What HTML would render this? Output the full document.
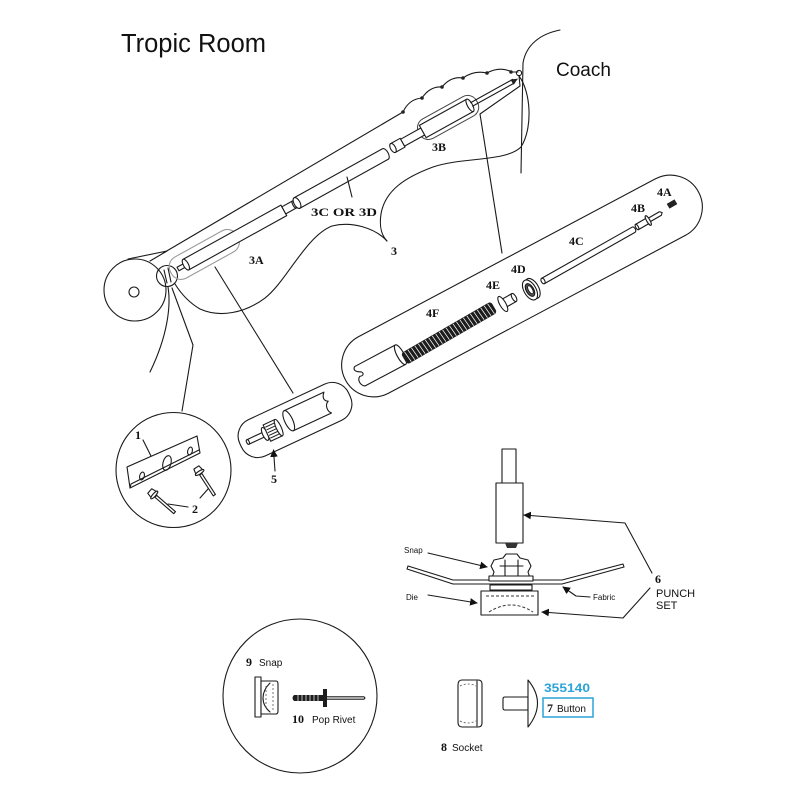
<!DOCTYPE html>
<html><head><meta charset="utf-8"><style>
html,body{margin:0;padding:0;background:#fff;}
svg{display:block;}
.s{fill:none;stroke:#1a1a1a;stroke-width:1.1;stroke-linecap:round;stroke-linejoin:round;}
.w{fill:#fff;stroke:#1a1a1a;stroke-width:1.1;stroke-linejoin:round;}
.lb{font-family:"Liberation Serif",serif;font-weight:bold;font-size:12px;fill:#111;}
.sn{font-family:"Liberation Sans",sans-serif;fill:#111;}
</style></head><body>
<svg width="800" height="800" viewBox="0 0 800 800" xmlns="http://www.w3.org/2000/svg">
<defs>
<marker id="ah" viewBox="0 0 10 10" refX="9" refY="5" markerWidth="7" markerHeight="7" orient="auto-start-reverse"><path d="M0,0 L10,5 L0,10 Z" fill="#111"/></marker>
</defs>

<!-- Title -->
<text x="121" y="52" class="sn" font-size="25.5">Tropic Room</text>
<text x="556" y="76" class="sn" font-size="19">Coach</text>

<!-- Coach outline -->
<path class="s" d="M560,30 C540,34 526,45 523,63 L521,173"/>
<path class="s" d="M519,76 C531,92 533,128 521,147 C506,162 462,157 433,167 C406,177 385,190 381,214 C379,227 382,236 387,241"/>
<path class="s" d="M387,241 C375,228 352,221 332,226 C306,236 286,282 265,298 C245,313 220,318 200,309 C188,302 180,292 175,284"/>

<!-- Roller & pivot -->
<circle class="s" cx="135" cy="290" r="31"/>
<circle class="s" cx="134" cy="292" r="5"/>
<path class="s" d="M128,259 L167,251 M150,261 L167,251"/>
<circle class="s" cx="167" cy="276" r="10.5"/>
<path class="s" d="M164,270 L167,283 M168,268 L171,282"/>

<!-- envelope top line & scallops -->
<path class="s" d="M165,252 L403,112"/>
<path class="s" d="M403,112 Q409,99 422,98 Q430,86 442,87 Q451,76 463,78 Q474,70 487,73 Q500,66 512,72 L518,72"/>
<g fill="#222"><circle cx="403" cy="112" r="1.8"/><circle cx="422" cy="98" r="1.8"/><circle cx="442" cy="87" r="1.8"/><circle cx="463" cy="78" r="1.8"/><circle cx="487" cy="73" r="1.8"/><circle cx="511" cy="72" r="1.8"/></g>
<circle class="s" cx="519" cy="73" r="2.6"/>
<path class="s" d="M519,76 L520,86 L480,114"/>

<!-- 3A -->
<g transform="translate(178,269) rotate(-29)">
  <rect x="-8" y="-12" width="76" height="24" rx="11" fill="none" stroke="#9a9a9a" stroke-width="1.1"/>
  <rect class="w" x="0" y="-2" width="9" height="4"/>
  <path class="w" d="M9,-6 L121,-6 L121,6 L9,6 Z"/>
  <ellipse class="w" cx="9" cy="0" rx="2.5" ry="6"/>
  <path class="w" d="M121,-4 L133,-4 L133,4 L121,4 Z"/>
  <ellipse class="w" cx="133" cy="0" rx="1.5" ry="4"/>
</g>
<!-- 3C -->
<g transform="translate(297,203) rotate(-29)">
  <path class="w" d="M0,-6 L101,-6 A3,6 0 0 1 101,6 L0,6 Z"/>
  <ellipse class="w" cx="0" cy="0" rx="3" ry="6"/>
</g>
<path class="s" d="M347,177 L352,197"/>
<!-- 3B -->
<g transform="translate(393,148) rotate(-29)">
  <rect x="30" y="-11" width="66" height="22" rx="10" fill="none" stroke="#444" stroke-width="1"/>
  <path class="w" d="M0,-5 L11,-5 L11,5 L0,5 Z"/>
  <ellipse class="w" cx="0" cy="0" rx="2.5" ry="5"/>
  <path class="w" d="M11,-4 L34,-4 L34,4 L11,4 Z"/>
  <path class="w" d="M34,-7 L88,-7 L88,7 L34,7 Z"/>
  <ellipse class="w" cx="88" cy="0" rx="2.5" ry="7"/>
  <path class="s" d="M90,-2 L138,-2 M90,2 L138,2"/>
  <path d="M136,-3 L143,0 L136,3 Z" fill="#222"/>
</g>

<!-- leaders -->
<path class="s" d="M480,114 L502,253"/>
<path class="s" d="M215,267 L293,393"/>
<path class="s" d="M168,287 C171,305 168,335 150,372"/>
<path class="s" d="M172,288 L193,345 L182,411"/>

<!-- labels 3 -->
<text x="249" y="264" class="lb" font-size="12">3A</text>
<text x="432" y="151" class="lb" font-size="12">3B</text>
<text x="311" y="216" class="lb" font-size="12" textLength="66" lengthAdjust="spacingAndGlyphs">3C OR 3D</text>
<text x="391" y="255" class="lb" font-size="12">3</text>

<!-- Box 4 -->
<g transform="translate(522,286) rotate(-28)">
  <rect class="s" x="-200" y="-32" width="400" height="64" rx="32"/>
</g>
<!-- tube end -->
<g transform="translate(381,365) rotate(-28)">
  <path class="w" d="M-24,-11 L22,-11 L22,11 L-24,11 C-28,8 -28,2 -24,0 C-20,2 -18,-2 -22,-4 C-26,-6 -27,-9 -24,-11 Z"/>
  <ellipse class="w" cx="22" cy="0" rx="3.5" ry="11"/>
</g>
<!-- spring 4F -->
<g transform="translate(404,359) rotate(-30)">
  <rect x="0" y="-6.5" width="104" height="13" rx="3" fill="#1d1d1d"/>
  <path stroke="#fff" stroke-width="0.8" d="M4,-6 L5,6 M8,-6 L9,6 M12,-6 L13,6 M16,-6 L17,6 M20,-6 L21,6 M24,-6 L25,6 M28,-6 L29,6 M32,-6 L33,6 M36,-6 L37,6 M40,-6 L41,6 M44,-6 L45,6 M48,-6 L49,6 M52,-6 L53,6 M56,-6 L57,6 M60,-6 L61,6 M64,-6 L65,6 M68,-6 L69,6 M72,-6 L73,6 M76,-6 L77,6 M80,-6 L81,6 M84,-6 L85,6 M88,-6 L89,6 M92,-6 L93,6 M96,-6 L97,6 M100,-6 L101,6"/>
</g>
<!-- 4E -->
<g transform="translate(508,301) rotate(-30)">
  <path class="w" d="M-6,-4.5 L7,-4.5 L7,4.5 L-6,4.5 Z"/>
  <ellipse class="w" cx="7" cy="0" rx="2" ry="4.5"/>
  <ellipse class="w" cx="-6" cy="0" rx="3" ry="8.5"/>
</g>
<!-- 4D -->
<g transform="translate(530,290) rotate(-30)">
  <ellipse class="w" cx="3" cy="0" rx="6" ry="11"/>
  <ellipse class="w" cx="0" cy="0" rx="6" ry="11"/>
  <ellipse cx="0" cy="0" rx="3.8" ry="7" fill="#555" stroke="#111" stroke-width="1"/>
  <ellipse cx="0.5" cy="0" rx="2" ry="4.5" fill="#fff" stroke="#111" stroke-width="0.8"/>
</g>
<!-- 4C -->
<g transform="translate(543,281) rotate(-29.5)">
  <path class="w" d="M0,-3 L104,-3 A2,3 0 0 1 104,3 L0,3 Z"/>
  <ellipse class="w" cx="0" cy="0" rx="1.8" ry="3"/>
</g>
<!-- 4B -->
<g transform="translate(637,227) rotate(-30)">
  <path class="w" d="M0,-3 L12,-3 L12,3 L0,3 Z"/>
  <ellipse class="w" cx="0" cy="0" rx="1.3" ry="3"/>
  <path class="w" d="M14,-2 L27,-2 L29,0 L27,2 L14,2 Z"/>
  <ellipse class="w" cx="13" cy="0" rx="1.6" ry="5.5"/>
</g>
<!-- 4A -->
<g transform="translate(672,204) rotate(-30)">
  <rect x="-4.5" y="-2.8" width="9" height="5.6" fill="#222"/>
</g>
<text x="657" y="196" class="lb">4A</text>
<text x="631" y="212" class="lb">4B</text>
<text x="569" y="245" class="lb">4C</text>
<text x="511" y="273" class="lb">4D</text>
<text x="486" y="289" class="lb">4E</text>
<text x="426" y="317" class="lb">4F</text>

<!-- Box 5 -->
<g transform="translate(295,420) rotate(-25)">
  <rect class="s" x="-60" y="-20" width="120" height="40" rx="18"/>
  <path class="w" d="M-52,-2.5 L-34,-2.5 L-34,2.5 L-52,2.5 Z"/>
  <ellipse class="w" cx="-52" cy="0" rx="1.3" ry="2.5"/>
  <ellipse class="w" cx="-33" cy="0" rx="2.5" ry="7"/>
  <path class="w" d="M-31,-9 L-18,-9 L-18,9 L-31,9 Z"/>
  <path stroke="#222" stroke-width="1" d="M-30,-6 L-19,-6 M-30,-3 L-19,-3 M-30,0 L-19,0 M-30,3 L-19,3 M-30,6 L-19,6"/>
  <ellipse class="w" cx="-18" cy="0" rx="2.5" ry="9"/>
  <path class="w" d="M-6,-13 L38,-13 C34,-9 34,-5 38,-3 C33,-1 33,6 36,9 L-6,9 Z"/>
  <ellipse class="w" cx="-6" cy="-2" rx="4" ry="11"/>
</g>
<text x="271" y="483" class="lb" font-size="13">5</text>
<path class="s" d="M275,471 L273.5,450" marker-end="url(#ah)"/>

<!-- Inset circle 1-2 -->
<circle class="s" cx="173.5" cy="470" r="57.5"/>
<path class="w" d="M127,467 L197,436 L200,453 L130,488 Z"/>
<path class="s" d="M131,484 L199,450 M131,484 L130,488"/>
<ellipse class="s" cx="142" cy="476" rx="2.3" ry="4" transform="rotate(15 142 476)"/>
<ellipse class="s" cx="167" cy="463" rx="4" ry="7.5" transform="rotate(15 167 463)"/>
<ellipse class="s" cx="190" cy="451" rx="2.3" ry="4" transform="rotate(15 190 451)"/>
<g transform="translate(152,493) rotate(41)">
  <path class="w" d="M5,-1.3 L30,-1.3 L30,1.3 L5,1.3 Z"/>
  <path class="w" d="M-3,-3 L2,-4 L2,4 L-3,3 Z"/>
  <ellipse class="w" cx="3" cy="0" rx="1.5" ry="5"/>
</g>
<g transform="translate(198,470) rotate(57)">
  <path class="w" d="M5,-1.3 L30,-1.3 L30,1.3 L5,1.3 Z"/>
  <path class="w" d="M-3,-3 L2,-4 L2,4 L-3,3 Z"/>
  <ellipse class="w" cx="3" cy="0" rx="1.5" ry="5"/>
</g>
<text x="135" y="439" class="lb" font-size="13">1</text>
<path class="s" d="M143,440 L151,456"/>
<text x="192" y="513" class="lb" font-size="13">2</text>
<path class="s" d="M188,507 L168,504 M200,498 L208,489"/>

<!-- Punch set -->
<rect class="w" x="502" y="449" width="14" height="34"/>
<rect class="w" x="496" y="483" width="27" height="60"/>
<path d="M505,543 L518,543 L516,548 L507,548 Z" fill="#333"/>
<path class="w" d="M408,566 L453,580 L562,580 L623,564 L624,567 L562,584 L453,584 L407,569 Z"/>
<path class="w" d="M503,558 L506,554 L517,554 L520,558 L528,560 L531,566 L528,572 L530,578 L492,578 L494,572 L491,566 L494,560 Z"/>
<path class="s" d="M505,560 L505,577 M518,560 L518,577 M500,566 L523,566"/>
<rect class="w" x="489" y="576" width="44" height="5"/>
<rect class="w" x="490" y="585" width="42" height="5"/>
<rect class="w" x="481" y="591" width="57" height="24"/>
<path d="M486,596 L534,596 M489,612 Q511,598 533,612" fill="none" stroke="#333" stroke-width="1" stroke-dasharray="3,2"/>
<text x="404" y="553" class="sn" font-size="8">Snap</text>
<text x="406" y="600" class="sn" font-size="8">Die</text>
<text x="593" y="600" class="sn" font-size="8">Fabric</text>
<path class="s" d="M428,553 L487,567" marker-end="url(#ah)"/>
<path class="s" d="M428,595 L477,603" marker-end="url(#ah)"/>
<path class="s" d="M590,597 L576,596 L563,587" marker-end="url(#ah)"/>
<path class="s" d="M652,573 L625,523 L524,515" marker-end="url(#ah)"/>
<path class="s" d="M650,588 L623,618 L542,612" marker-end="url(#ah)"/>
<text x="655" y="583" class="lb" font-size="15">6</text>
<text x="656" y="597" class="sn" font-size="11">PUNCH</text>
<text x="656" y="609" class="sn" font-size="11">SET</text>

<!-- Bottom circle 9/10 -->
<circle class="s" cx="300" cy="696" r="77"/>
<rect class="w" x="255" y="677" width="6" height="40"/>
<path class="w" d="M261,681 L276,681 Q278,681 278,684 L278,711 Q278,714 276,714 L261,714 Z"/>
<path class="s" d="M270,683 Q263,690 263,698 Q263,706 270,712"/>
<path d="M266,686 L266,710 M273,684 L273,712" stroke="#555" stroke-width="0.8" stroke-dasharray="2,2"/>
<text x="246" y="666" class="lb" font-size="14">9</text>
<text x="259" y="666" class="sn" font-size="10">Snap</text>
<path d="M294,695 L323,695 L323,701 L294,701 Q291,698 294,695 Z" fill="#1d1d1d"/>
<path stroke="#fff" stroke-width="0.7" d="M298,695 L298,701 M302,695 L302,701 M306,695 L306,701 M310,695 L310,701 M314,695 L314,701 M318,695 L318,701"/>
<rect x="323" y="689" width="4" height="18" fill="#1d1d1d"/>
<path class="s" d="M327,696.8 L364,696.8 L365,698 L364,699.2 L327,699.2"/>
<text x="292" y="723" class="lb" font-size="14">10</text>
<text x="312" y="723" class="sn" font-size="10">Pop Rivet</text>

<!-- Socket 8 -->
<path class="w" d="M462,680 L478,680 Q482,680 482,684 L482,723 Q482,727 478,727 L462,727 Q458,727 458,722 L458,685 Q458,680 462,680 Z"/>
<path class="s" d="M477,681 L477,726"/>
<path d="M460,686 Q468,682 476,686 M460,721 Q468,725 476,721" fill="none" stroke="#555" stroke-width="0.8" stroke-dasharray="2,2"/>
<text x="441" y="751" class="lb" font-size="14">8</text>
<text x="452" y="751" class="sn" font-size="10">Socket</text>

<!-- Button 7 -->
<path class="w" d="M505,697 L528,697 L528,710 L505,710 Q503,710 503,708 L503,699 Q503,697 505,697 Z"/>
<path class="w" d="M528,680 Q547,703 528,727 Z"/>
<text x="544" y="692" font-family="Liberation Sans, sans-serif" font-weight="bold" font-size="12" fill="#2aa3d8" textLength="46" lengthAdjust="spacingAndGlyphs">355140</text>
<rect x="543" y="698" width="50" height="19" fill="none" stroke="#2aa3d8" stroke-width="1.5"/>
<text x="547" y="712" class="lb" font-size="13">7</text>
<text x="557" y="712" class="sn" font-size="10">Button</text>
</svg>
</body></html>
